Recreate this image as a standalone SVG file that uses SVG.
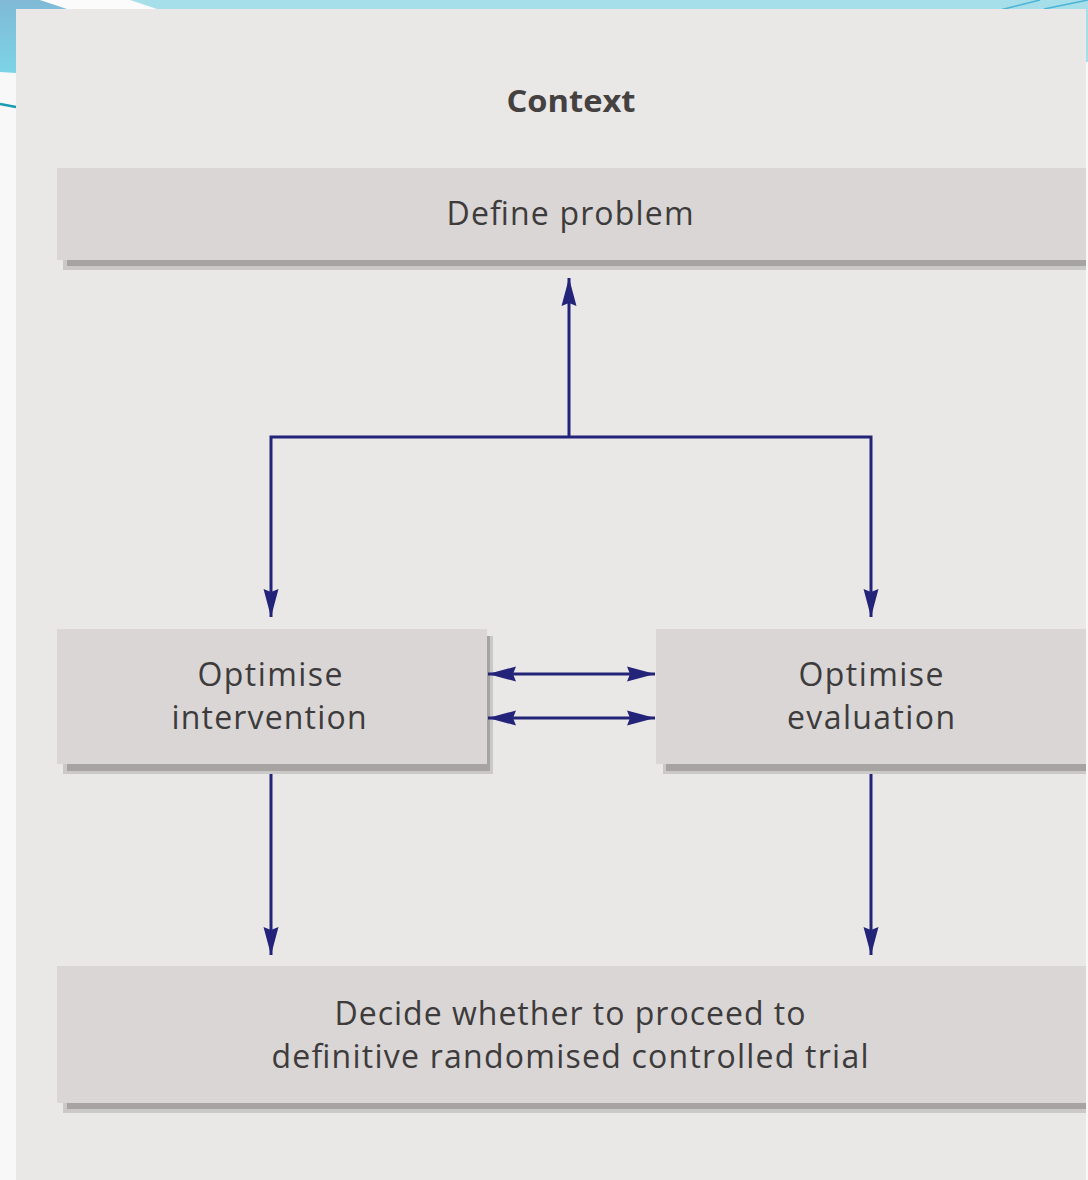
<svg xmlns="http://www.w3.org/2000/svg" width="1088" height="1180" viewBox="0 0 1088 1180">
  <defs>
    <linearGradient id="slideBlue" x1="0" y1="0" x2="0" y2="1">
      <stop offset="0" stop-color="#80b9d6"/>
      <stop offset="1" stop-color="#7cd4e6"/>
    </linearGradient>
    <marker id="head" viewBox="-30 -10 32 20" refX="0" refY="0" markerUnits="userSpaceOnUse" markerWidth="32" markerHeight="20" orient="auto-start-reverse">
      <path d="M0,0 L-28,-7.5 L-25,0 L-28,7.5 Z" fill="#23237a"/>
    </marker>
    <style>
      .box { fill: #d9d6d5; }
      .shadeDark { fill: #a6a3a2; }
      .shadeLight { fill: #cbc9c8; }
      .label { font-family: "Open Sans", "Liberation Sans", sans-serif; font-size: 32px; fill: #3d3b3b; text-anchor: middle; }
      .title { font-family: "Open Sans", "Liberation Sans", sans-serif; font-size: 30px; font-weight: bold; fill: #454141; text-anchor: middle; }
      .link { stroke: #23237a; stroke-width: 3; fill: none; stroke-linejoin: miter; }
    </style>
  </defs>

  <!-- slide backdrop -->
  <rect x="0" y="0" width="1088" height="1180" fill="#f8f8f8"/>
  <rect x="0" y="0" width="1088" height="10" fill="#a6dfe9"/>
  <rect x="1080" y="0" width="8" height="62" fill="#a6dfe9"/>
  <polygon points="0,0 40,0 110,22 16,73 0,72" fill="url(#slideBlue)"/>
  <polygon points="40,0 130,0 160,10 70,10" fill="#fbfbfb"/>
  <line x1="0" y1="104" x2="16" y2="107" stroke="#1a9ab3" stroke-width="2.5"/>
  <line x1="1000" y1="10" x2="1040" y2="0" stroke="#4ab3d6" stroke-width="1.5"/>
  <line x1="1044" y1="9" x2="1088" y2="0" stroke="#4ab3d6" stroke-width="1.5"/>

  <!-- figure panel -->
  <rect x="16" y="9" width="1070" height="1171" fill="#e9e8e6"/>

  <text class="title" x="571" y="112" textLength="129" lengthAdjust="spacingAndGlyphs">Context</text>

  <g id="define-problem">
    <rect class="shadeLight" x="63" y="172" width="1023" height="98"/>
    <rect class="shadeDark" x="67" y="172" width="1019" height="94"/>
    <rect class="box" x="57" y="168" width="1029" height="92"/>
    <text class="label" x="570" y="225" textLength="247" lengthAdjust="spacing">Define problem</text>
  </g>

  <g id="optimise-intervention">
    <rect class="shadeLight" x="63" y="636" width="430" height="138"/>
    <rect class="shadeDark" x="67" y="636" width="423" height="135"/>
    <rect class="box" x="57" y="629" width="430" height="135"/>
    <text class="label" x="270" y="686" textLength="145" lengthAdjust="spacing">Optimise</text>
    <text class="label" x="269" y="729" textLength="195" lengthAdjust="spacing">intervention</text>
  </g>

  <g id="optimise-evaluation">
    <rect class="shadeLight" x="663" y="636" width="423" height="138"/>
    <rect class="shadeDark" x="666" y="636" width="420" height="135"/>
    <rect class="box" x="656" y="629" width="430" height="135"/>
    <text class="label" x="871" y="686" textLength="145" lengthAdjust="spacing">Optimise</text>
    <text class="label" x="871" y="729" textLength="168" lengthAdjust="spacing">evaluation</text>
  </g>

  <g id="decide-rct">
    <rect class="shadeLight" x="63" y="972" width="1023" height="141"/>
    <rect class="shadeDark" x="67" y="972" width="1019" height="137"/>
    <rect class="box" x="57" y="966" width="1029" height="137"/>
    <text class="label" x="570" y="1025" textLength="471" lengthAdjust="spacing">Decide whether to proceed to</text>
    <text class="label" x="570" y="1068" textLength="597" lengthAdjust="spacing">definitive randomised controlled trial</text>
  </g>

  <g id="connectors">
    <path class="link" d="M569,437 V278" marker-end="url(#head)"/>
    <path class="link" d="M271,617 V437 H871 V617" marker-start="url(#head)" marker-end="url(#head)"/>
    <path class="link" d="M271,774 V955" marker-end="url(#head)"/>
    <path class="link" d="M871,774 V955" marker-end="url(#head)"/>
    <path class="link" d="M488,674 H655" marker-start="url(#head)" marker-end="url(#head)"/>
    <path class="link" d="M488,718 H655" marker-start="url(#head)" marker-end="url(#head)"/>
  </g>
</svg>
